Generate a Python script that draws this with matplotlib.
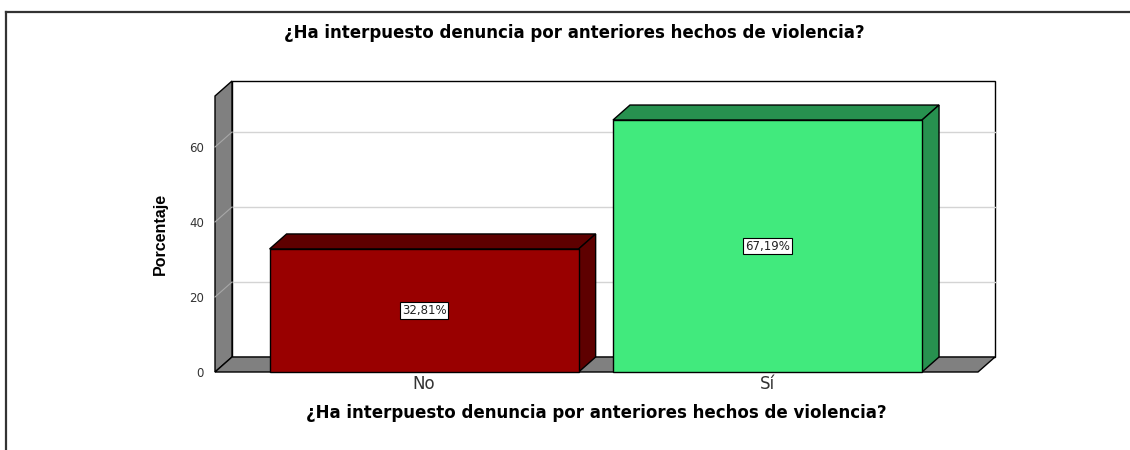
import matplotlib
matplotlib.use("Agg")
import matplotlib.pyplot as plt
import matplotlib.transforms as mtransforms
from matplotlib.patches import Polygon, Rectangle
from matplotlib.lines import Line2D

# Data
categories = ["No", "Sí"]
percentages = [32.81, 67.19]
value_labels = ["32,81%", "67,19%"]
y_ticks = [0, 20, 40, 60]
title = "¿Ha interpuesto denuncia por anteriores hechos de violencia?"

front_colors = ["#990000", "#41ea7d"]
shade_colors = ["#5e0000", "#27914f"]
wall_grey = "#808080"
grid_grey = "#d4d4d4"

plt.rcParams["font.family"] = ["DejaVu Sans"]

fig = plt.figure(figsize=(11.3, 4.5), dpi=100)
ax = fig.add_axes([215 / 1130, 78 / 450, 763 / 1130, 276 / 450])
ax.set_xlim(-0.609, 1.613)
ax.set_ylim(0, 73.6)
ax.patch.set_visible(False)
for s in ax.spines.values():
    s.set_visible(False)

# depth offset for the fake 3D look
depth = mtransforms.ScaledTranslation(17 / 100, 15 / 100, fig.dpi_scale_trans)
back = ax.transData + depth

x0, x1 = ax.get_xlim()
ytop = ax.get_ylim()[1]

# back wall
ax.add_patch(Rectangle((x0, 0), x1 - x0, ytop, transform=back,
                       facecolor="white", edgecolor="black", lw=1, clip_on=False, zorder=1))
for t in y_ticks[1:]:
    ax.add_line(Line2D([x0, x1], [t, t], transform=back, color=grid_grey, lw=1,
                       clip_on=False, zorder=1.5))

# left wall and floor: parallelograms between front and back planes
def slab(points_front, points_back, **kw):
    disp = [ax.transData.transform(p) for p in points_front] + \
           [back.transform(p) for p in points_back]
    ax.add_patch(Polygon(disp, closed=True, transform=None, clip_on=False, **kw))

slab([(x0, 0), (x0, ytop)], [(x0, ytop), (x0, 0)],
     facecolor=wall_grey, edgecolor="black", lw=1, zorder=2)
for t in y_ticks[1:]:
    a = ax.transData.transform((x0, t))
    b = back.transform((x0, t))
    ax.add_line(Line2D([a[0], b[0]], [a[1], b[1]], transform=None, color="#a8a8a8",
                       lw=0.8, clip_on=False, zorder=2.2))
slab([(x0, 0), (x1, 0)], [(x1, 0), (x0, 0)],
     facecolor=wall_grey, edgecolor="black", lw=1, zorder=2)

# bars
width = 0.9
xpos = list(range(len(categories)))
bars = ax.bar(xpos, percentages, width=width, color=front_colors,
              edgecolor="black", lw=1, zorder=5, clip_on=False)
for i, v in enumerate(percentages):
    left, right = xpos[i] - width / 2, xpos[i] + width / 2
    # top face
    slab([(left, v), (right, v)], [(right, v), (left, v)],
         facecolor=shade_colors[i], edgecolor="black", lw=1, zorder=4)
    # right side face
    slab([(right, 0), (right, v)], [(right, v), (right, 0)],
         facecolor=shade_colors[i], edgecolor="black", lw=1, zorder=4)
    ax.text(xpos[i], v / 2, value_labels[i], ha="center", va="center", fontsize=8.5,
            color="#222222", zorder=6,
            bbox=dict(boxstyle="square,pad=0.15", facecolor="white",
                      edgecolor="black", lw=0.8))

ax.set_xticks(xpos)
ax.set_xticklabels(categories, fontsize=12, color="#333333")
ax.set_yticks(y_ticks)
ax.set_yticklabels([str(t) for t in y_ticks], fontsize=8.5, color="#333333")
ax.tick_params(axis="x", length=0, pad=2)
ax.tick_params(axis="y", length=0, pad=8)

ax.set_ylabel("Porcentaje", fontsize=11.5, fontweight="bold",
              family=["Liberation Sans"], labelpad=15)
ax.set_xlabel(title, fontsize=12, fontweight="bold", labelpad=8)

fig.text(574 / 1130, 1 - 33 / 450, title, ha="center", va="center",
         fontsize=12, fontweight="bold")

# outer frame lines (top and left)
fig.add_artist(Line2D([6 / 1130, 1], [1 - 12 / 450, 1 - 12 / 450], color="#333333", lw=1.6))
fig.add_artist(Line2D([6 / 1130, 6 / 1130], [0, 1 - 12 / 450], color="#333333", lw=1.6))

fig.savefig("out.png", dpi=100)
